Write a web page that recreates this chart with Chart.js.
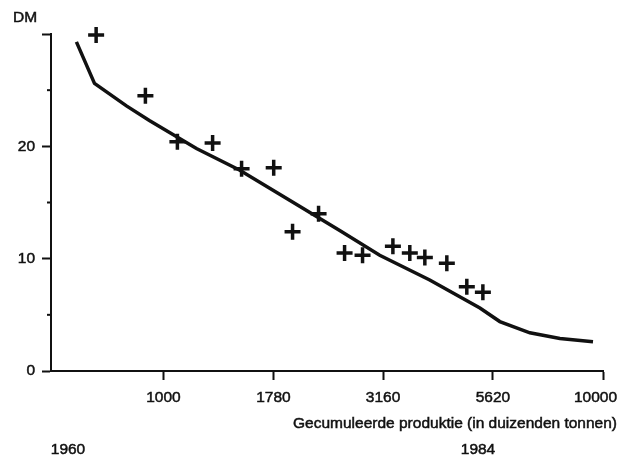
<!DOCTYPE html>
<html>
<head>
<meta charset="utf-8">
<script src="https://cdn.jsdelivr.net/npm/chart.js@4"></script>
<style>
  html, body { margin: 0; padding: 0; background: #fff; }
  #wrap { width: 619px; height: 456px; }
</style>
</head>
<body>
<div id="wrap"><canvas id="leerCurve"></canvas></div>
<script>
// waarnemingen (kruisjes): gecumuleerde produktie en prijs in DM
const markerX = [703, 910, 1076, 1294, 1506, 1782, 1967, 2254, 2583, 2838, 3327, 3635, 3933, 4413, 4900, 5330];
const markerY = [29.9, 24.5, 20.4, 20.3, 18.0, 18.1, 12.4, 14.0, 10.5, 10.3, 11.1, 10.5, 10.1, 9.6, 7.5, 7.0];

// de getrokken curve
const curveX = [634, 697, 824, 929, 1189, 1489, 1937, 2518, 3105, 4035, 5248, 5825, 6817, 7980, 9490];
const curveY = [29.3, 25.6, 23.6, 22.3, 19.8, 17.9, 15.2, 12.5, 10.3, 8.1, 5.6, 4.4, 3.4, 2.9, 2.6];

// as-indeling
const xTicks = [1000, 1780, 3160, 5620, 10000];
const yTicks = [0, 10, 20, 30];
const yMinorTicks = [5, 15, 25];

const ink = '#111';
const font = { family: '"Liberation Sans", Arial, sans-serif', size: 15.5 };

function drawText(ctx, txt, x, y) {
  ctx.strokeText(txt, x, y);
  ctx.fillText(txt, x, y);
}

// extra teksten, x-labels en korte streepjes op de y-as
const extras = {
  id: 'extras',
  afterDraw(chart) {
    const ctx = chart.ctx;
    const x = chart.scales.x;
    const y = chart.scales.y;
    ctx.save();
    ctx.strokeStyle = ink;
    ctx.lineWidth = 2;
    yMinorTicks.forEach(function(v) {
      const py = y.getPixelForValue(v);
      ctx.beginPath();
      ctx.moveTo(y.right - 4, py);
      ctx.lineTo(y.right, py);
      ctx.stroke();
    });
    ctx.fillStyle = ink;
    ctx.lineWidth = 0.5;
    ctx.font = font.size + 'px ' + font.family;
    ctx.textBaseline = 'middle';

    // x-labels, de laatste niet buiten het beeld laten vallen
    ctx.textAlign = 'center';
    xTicks.forEach(function(v) {
      const label = String(v);
      const w = ctx.measureText(label).width;
      let px = x.getPixelForValue(v);
      if (px + w / 2 > 617) px = 617 - w / 2;
      drawText(ctx, label, px, 398);
    });

    ctx.textAlign = 'left';
    drawText(ctx, 'DM', 13, 18);
    ctx.textAlign = 'right';
    drawText(ctx, 'Gecumuleerde produktie (in duizenden tonnen)', 617, 424);
    ctx.textAlign = 'center';
    drawText(ctx, '1960', 68, 450);
    drawText(ctx, '1984', 478, 450);
    ctx.restore();
  }
};

const ctxChart = document.getElementById('leerCurve').getContext('2d');
new Chart(ctxChart, {
  type: 'scatter',
  data: {
    datasets: [
      {
        data: curveX.map((x, i) => ({ x: x, y: curveY[i] })),
        showLine: true,
        borderColor: ink,
        borderWidth: 3.5,
        pointRadius: 0,
        tension: 0,
        clip: false,
      },
      {
        data: markerX.map((x, i) => ({ x: x, y: markerY[i] })),
        showLine: false,
        pointStyle: 'cross',
        pointRadius: 8,
        pointBorderWidth: 3.5,
        borderColor: ink,
        backgroundColor: ink,
        clip: false,
      }
    ]
  },
  options: {
    responsive: true,
    maintainAspectRatio: false,
    animation: false,
    layout: { padding: { top: 34, right: 16, left: 0, bottom: 0 } },
    plugins: { legend: { display: false }, tooltip: { enabled: false } },
    scales: {
      x: {
        type: 'logarithmic',
        min: 555,
        max: 10000,
        afterBuildTicks(scale) {
          scale.ticks = xTicks.map(v => ({ value: v }));
        },
        afterFit(scale) {
          scale.height = 85;
          scale.paddingLeft = 0;
          scale.paddingRight = 0;
        },
        ticks: { display: false, autoSkip: false },
        grid: { drawOnChartArea: false, drawTicks: true, tickLength: 9, tickColor: ink, tickWidth: 2 },
        border: { display: true, color: ink, width: 2 },
      },
      y: {
        min: 0,
        max: 30,
        afterBuildTicks(scale) {
          scale.ticks = yTicks.map(v => ({ value: v }));
        },
        afterFit(scale) {
          scale.width = 51;
          scale.paddingTop = 0;
          scale.paddingBottom = 0;
        },
        ticks: {
          color: ink,
          font: font,
          padding: 7,
          textStrokeColor: ink,
          textStrokeWidth: 0.5,
          callback: v => (v === 30 ? '' : String(v)),
        },
        grid: { drawOnChartArea: false, drawTicks: true, tickLength: 9, tickColor: ink, tickWidth: 2 },
        border: { display: true, color: ink, width: 2 },
      }
    }
  },
  plugins: [extras]
});
</script>
</body>
</html>
